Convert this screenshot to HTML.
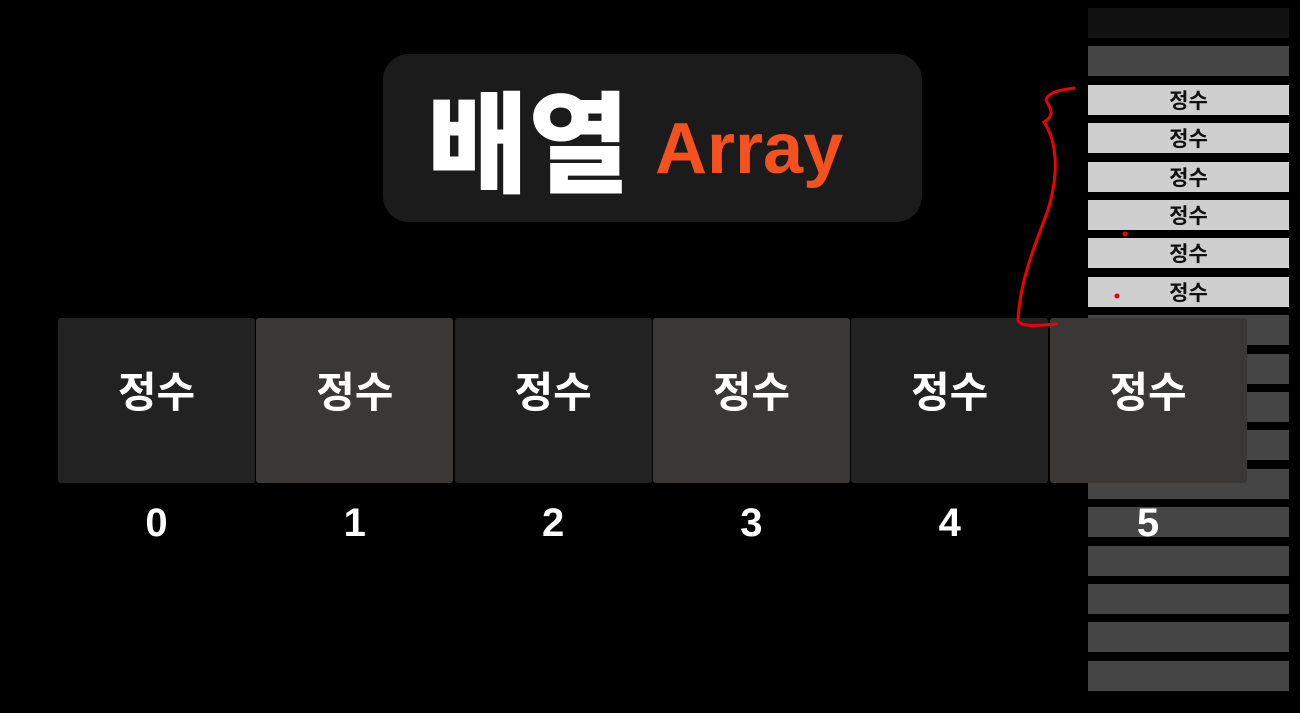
<!DOCTYPE html>
<html><head><meta charset="utf-8"><style>
body{margin:0;width:1300px;height:713px;background:#000;overflow:hidden;position:relative;font-family:"Liberation Sans","Noto Sans CJK KR",sans-serif}
.abs{position:absolute}
.row{position:absolute;left:1088px;width:201px;height:30px;background:#454545;color:#111;font-weight:bold;font-size:21px;text-align:center;line-height:34px}
.cell{position:absolute;top:318px;height:165px;width:197px;border-radius:3px;color:#fff;font-weight:bold;font-size:42px;text-align:center;line-height:150px}
.idx{position:absolute;top:501px;width:197px;text-align:center;color:#fff;font-weight:bold;font-size:40px}
</style></head><body>
<div id="rows"></div>
<div class="abs" style="left:383px;top:54px;width:539px;height:168px;background:#1b1b1b;border-radius:26px">
<span class="abs" style="left:44px;top:28px;color:#fff;font-weight:900;font-size:110px;line-height:130px">배열</span>
<span class="abs" style="left:272px;top:50px;color:#f4511e;font-weight:bold;font-size:72px;line-height:90px">Array</span>
</div>
<div id="cells"></div>
<svg class="abs" style="left:0;top:0" width="1300" height="713">
<path d="M1075,88 C1060,90 1048,92 1046,100 C1050,108 1056,115 1044,122 C1056,140 1060,170 1048,210 C1035,245 1020,280 1018,320 C1020,328 1040,325 1058,324" stroke="#e00" stroke-width="3" fill="none"/>
<circle cx="1125" cy="234" r="2.5" fill="#e00"/><circle cx="1117" cy="296" r="2.5" fill="#e00"/>
</svg>
<script>
const rowsEl=document.getElementById('rows');
for(let i=0;i<18;i++){
 const d=document.createElement('div');d.className='row';
 
 
 d.style.top=(8+i*38.4)+'px';
 if(i===0)d.style.background='#111';
 if(i>=2&&i<=7){d.style.background='#cfcfcf';d.textContent='정수';}
 rowsEl.appendChild(d);
}
const cellsEl=document.getElementById('cells');
for(let i=0;i<6;i++){
 const c=document.createElement('div');c.className='cell';
 
 
 c.style.left=(58+i*198.3)+'px';
 c.style.background=i%2?'#393837':'#222';
 c.textContent='정수';cellsEl.appendChild(c);
 const t=document.createElement('div');t.className='idx';
 
 
 t.style.left=(58+i*198.3)+'px';t.textContent=i;cellsEl.appendChild(t);
}
</script>
</body></html>
